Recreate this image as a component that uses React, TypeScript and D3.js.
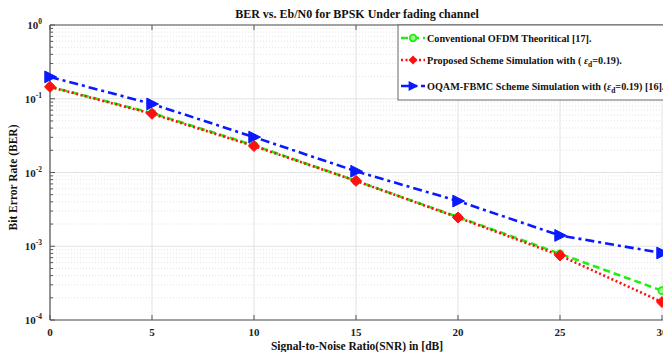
import React from "react";
import * as d3 from "d3";

// SNR points (dB) and BER values for each curve
const snrDb = [0, 5, 10, 15, 20, 25, 30];
const berTheory = [0.146, 0.064, 0.0233, 0.0077, 0.00249, 0.00079, 0.00025];
const berProposed = [0.145, 0.0625, 0.0228, 0.0077, 0.00245, 0.00075, 0.000175];
const berOqam = [0.198, 0.085, 0.0302, 0.0104, 0.0041, 0.0014, 0.00081];

const xTicks = [0, 5, 10, 15, 20, 25, 30];
const yDecades = [1, 0.1, 0.01, 0.001, 0.0001];
const yExponents = [0, -1, -2, -3, -4];

const titleText = "BER vs. Eb/N0 for BPSK Under fading channel";
const xLabel = "Signal-to-Noise Ratio(SNR) in [dB]";
const yLabel = "Bit Error Rate (BER)";

const W = 663;
const H = 352;
const M = { left: 50, top: 25, right: 662, bottom: 320 };
const FONT = "'Liberation Serif', 'Times New Roman', serif";

export default function App() {
  const x = d3.scaleLinear().domain([0, 30]).range([M.left, M.right]);
  const y = d3.scaleLog().domain([1e-4, 1]).range([M.bottom, M.top]);

  const line = d3
    .line<number>()
    .x((_, i) => x(snrDb[i]))
    .y((d) => y(d));

  const minors: number[] = [];
  for (let e = -4; e < 0; e++) {
    for (let k = 2; k <= 9; k++) minors.push(k * Math.pow(10, e));
  }

  const diamond = (cx: number, cy: number, r: number) =>
    `M${cx},${cy - r} L${cx + r},${cy} L${cx},${cy + r} L${cx - r},${cy} Z`;
  const triRight = (cx: number, cy: number, r: number) =>
    `M${cx + r},${cy} L${cx - r * 0.8},${cy - r * 0.9} L${cx - r * 0.8},${cy + r * 0.9} Z`;

  const legendX = 398;
  const legendRows = [38, 60, 86];

  return (
    <svg
      width={W}
      height={H}
      style={{ position: "absolute", left: 0, top: 0, background: "#fff" }}
      fontFamily={FONT}
    >
      <rect x={0} y={0} width={W} height={H} fill="#fff" />

      {/* minor y grid */}
      {minors.map((v, i) => (
        <line
          key={"mg" + i}
          x1={M.left}
          x2={M.right}
          y1={y(v)}
          y2={y(v)}
          stroke="#d8d8d8"
          strokeWidth={0.7}
          strokeDasharray="1,2"
        />
      ))}
      {/* major grid */}
      {yDecades.map((v, i) => (
        <line key={"yg" + i} x1={M.left} x2={M.right} y1={y(v)} y2={y(v)} stroke="#e2e2e2" strokeWidth={1} />
      ))}
      {xTicks.map((v, i) => (
        <line key={"xg" + i} x1={x(v)} x2={x(v)} y1={M.top} y2={M.bottom} stroke="#e2e2e2" strokeWidth={1} />
      ))}

      {/* axes */}
      <line x1={M.left} x2={M.right + 2} y1={M.bottom} y2={M.bottom} stroke="#555" strokeWidth={1.2} />
      <line x1={M.left} x2={M.right + 2} y1={M.top} y2={M.top} stroke="#555" strokeWidth={1.2} />
      <line x1={M.left} x2={M.left} y1={M.top} y2={M.bottom} stroke="#555" strokeWidth={1.2} />
      {xTicks.map((v, i) => (
        <g key={"xt" + i}>
          <line x1={x(v)} x2={x(v)} y1={M.bottom} y2={M.bottom - 5} stroke="#555" strokeWidth={1} />
          <line x1={x(v)} x2={x(v)} y1={M.top} y2={M.top + 5} stroke="#555" strokeWidth={1} />
          <text x={x(v)} y={M.bottom + 16} fontSize={11} fontWeight="bold" textAnchor="middle" fill="#222">
            {v}
          </text>
        </g>
      ))}
      {minors.map((v, i) => (
        <line key={"ym" + i} x1={M.left} x2={M.left + 3} y1={y(v)} y2={y(v)} stroke="#555" strokeWidth={1} />
      ))}
      {yDecades.map((v, i) => (
        <g key={"yt" + i}>
          <line x1={M.left} x2={M.left + 5} y1={y(v)} y2={y(v)} stroke="#555" strokeWidth={1} />
          <text x={M.left - 8} y={y(v) + 4} fontSize={11} fontWeight="bold" textAnchor="end" fill="#222">
            10
            <tspan dy={-5} fontSize={7.5}>
              {yExponents[i]}
            </tspan>
          </text>
        </g>
      ))}

      {/* curves */}
      <path d={line(berOqam) || ""} fill="none" stroke="#0a1aff" strokeWidth={2.6} strokeDasharray="9,4,3,4" />
      <path d={line(berTheory) || ""} fill="none" stroke="#22ee11" strokeWidth={2.6} strokeDasharray="7,4" />
      <path d={line(berProposed) || ""} fill="none" stroke="#ff1010" strokeWidth={2.6} strokeDasharray="2,2.5" />

      {berOqam.map((v, i) => (
        <path key={"mb" + i} d={triRight(x(snrDb[i]), y(v), 6.5)} fill="#0a1aff" stroke="#0a1aff" strokeWidth={1} />
      ))}
      {berTheory.map((v, i) => (
        <circle key={"mg" + i} cx={x(snrDb[i])} cy={y(v)} r={3.5} fill="#9ff590" stroke="#22ee11" strokeWidth={1.8} />
      ))}
      {berProposed.map((v, i) => (
        <path key={"mr" + i} d={diamond(x(snrDb[i]), y(v), 5.5)} fill="#ff1010" stroke="#ff1010" strokeWidth={1} />
      ))}

      {/* legend */}
      <rect x={legendX} y={M.top} width={W - legendX + 5} height={75} fill="#fff" stroke="#666" strokeWidth={1} />
      <g>
        <line x1={legendX + 3} x2={legendX + 27} y1={legendRows[0]} y2={legendRows[0]} stroke="#22ee11" strokeWidth={2.6} strokeDasharray="7,4" />
        <circle cx={legendX + 15} cy={legendRows[0]} r={3.3} fill="#9ff590" stroke="#22ee11" strokeWidth={1.8} />
        <text x={legendX + 29} y={legendRows[0] + 3.5} fontSize={10.2} fontWeight="bold" fill="#111">
          Conventional OFDM Theoritical [17].
        </text>

        <line x1={legendX + 3} x2={legendX + 27} y1={legendRows[1]} y2={legendRows[1]} stroke="#ff1010" strokeWidth={2.6} strokeDasharray="2,2.5" />
        <path d={diamond(legendX + 15, legendRows[1], 4.5)} fill="#ff1010" />
        <text x={legendX + 29} y={legendRows[1] + 3.5} fontSize={10.2} fontWeight="bold" fill="#111">
          Proposed Scheme Simulation with (
          <tspan fontStyle="italic"> ε</tspan>
          <tspan dy={3} fontSize={7.5}>d</tspan>
          <tspan dy={-3}>=0.19).</tspan>
        </text>

        <line x1={legendX + 3} x2={legendX + 27} y1={legendRows[2]} y2={legendRows[2]} stroke="#0a1aff" strokeWidth={2.6} strokeDasharray="9,4,3,4" />
        <path d={triRight(legendX + 15, legendRows[2], 5.5)} fill="#0a1aff" />
        <text x={legendX + 29} y={legendRows[2] + 3.5} fontSize={10.2} fontWeight="bold" fill="#111">
          OQAM-FBMC Scheme Simulation with (
          <tspan fontStyle="italic">ε</tspan>
          <tspan dy={3} fontSize={7.5}>d</tspan>
          <tspan dy={-3}>=0.19) [16].</tspan>
        </text>
      </g>

      {/* titles */}
      <text x={357} y={18} fontSize={12} fontWeight="bold" textAnchor="middle" fill="#111">
        {titleText}
      </text>
      <text x={357} y={350} fontSize={11.5} fontWeight="bold" textAnchor="middle" fill="#111">
        {xLabel}
      </text>
      <text
        transform={`translate(17,${(M.top + M.bottom) / 2 + 5}) rotate(-90)`}
        fontSize={11.5}
        fontWeight="bold"
        textAnchor="middle"
        fill="#111"
      >
        {yLabel}
      </text>
    </svg>
  );
}
